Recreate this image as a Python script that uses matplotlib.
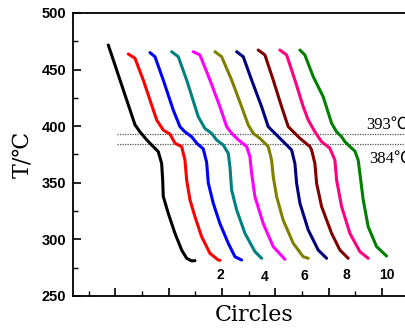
import matplotlib
matplotlib.use("Agg")
import matplotlib.pyplot as plt
from matplotlib.ticker import MultipleLocator

# cooling curves, one per cycle (x in arbitrary time units, T in degC)
x1 = [17.38, 27.39, 29.26, 31.78, 33.65, 36.13, 37.40, 37.78, 38.00, 39.88, 42.39, 44.90, 46.78, 48.65, 49.89]
t1 = [471.7, 401.3, 395.0, 388.0, 383.4, 377.5, 367.0, 352.5, 338.0, 323.0, 305.4, 290.6, 283.3, 281.0, 281.2]

x2 = [24.88, 27.39, 30.50, 35.53, 38.00, 40.51, 42.39, 44.90, 46.14, 46.78, 48.01, 49.89, 52.40, 55.51, 58.63, 59.26]
t2 = [463.8, 460.0, 440.8, 405.5, 396.6, 393.0, 385.0, 382.0, 370.0, 352.5, 335.0, 320.0, 302.4, 287.7, 281.8, 281.5]

x3 = [33.01, 34.89, 38.00, 41.75, 44.26, 46.14, 48.65, 50.53, 53.00, 54.28, 54.88, 56.75, 59.26, 62.38, 64.89, 67.40]
t3 = [465.0, 461.4, 440.8, 414.3, 399.6, 395.0, 390.7, 385.0, 380.0, 368.0, 350.0, 332.0, 314.0, 296.6, 284.7, 281.8]

x4 = [41.15, 43.63, 46.78, 51.13, 53.64, 56.15, 58.03, 60.50, 62.38, 63.01, 63.65, 65.53, 68.64, 72.39, 74.90]
t4 = [465.8, 461.4, 440.8, 408.4, 398.0, 393.7, 387.8, 383.4, 376.0, 364.3, 343.6, 326.0, 305.4, 289.2, 283.3]

x5 = [49.25, 51.76, 55.51, 59.26, 61.78, 63.65, 66.13, 69.28, 70.51, 71.15, 72.39, 75.50, 79.25, 83.64]
t5 = [465.8, 462.9, 440.8, 417.2, 399.6, 393.7, 388.0, 382.0, 373.0, 358.4, 337.7, 314.0, 293.6, 282.4]

x6 = [57.39, 59.90, 63.65, 67.40, 69.88, 71.75, 74.26, 77.38, 78.65, 79.25, 80.53, 83.00, 86.75, 90.50, 92.38]
t6 = [465.8, 461.4, 440.8, 417.2, 401.0, 393.7, 389.3, 382.0, 370.0, 355.6, 337.7, 317.0, 296.6, 284.7, 283.3]

x7 = [65.53, 68.00, 71.15, 74.90, 77.38, 79.89, 81.76, 84.88, 86.15, 87.39, 88.03, 89.26, 92.38, 96.13, 99.28]
t7 = [465.8, 461.4, 440.8, 417.2, 399.6, 393.7, 389.3, 382.0, 379.0, 367.0, 349.6, 332.0, 308.4, 290.6, 283.3]

x8 = [73.63, 76.14, 79.25, 82.40, 84.88, 87.39, 89.26, 93.01, 93.65, 94.89, 95.53, 97.40, 101.15, 104.26, 107.38]
t8 = [467.3, 462.9, 440.8, 417.2, 399.6, 393.7, 389.3, 382.0, 379.0, 367.0, 349.6, 329.0, 305.4, 290.6, 283.3]

x9 = [81.76, 84.28, 87.39, 90.50, 92.38, 94.89, 97.40, 100.51, 102.39, 103.03, 104.90, 108.01, 111.76, 114.88]
t9 = [467.3, 462.9, 440.8, 417.2, 405.5, 395.0, 386.3, 380.5, 370.0, 352.5, 329.0, 305.4, 289.2, 283.3]

x10 = [89.26, 91.14, 94.25, 98.00, 101.15, 103.03, 104.90, 106.14, 108.01, 109.89, 111.13, 111.76, 113.00, 114.88, 118.03, 121.78]
t10 = [467.3, 462.9, 443.8, 426.0, 402.6, 395.0, 390.7, 386.3, 382.0, 378.0, 370.0, 358.4, 335.0, 311.2, 293.6, 285.3]

xs = [x1, x2, x3, x4, x5, x6, x7, x8, x9, x10]
ts = [t1, t2, t3, t4, t5, t6, t7, t8, t9, t10]
colors = ['black', 'red', 'blue', '#008080', '#FF00FF', '#808000', '#000080', '#800000', '#FF0080', '#008000']

levels = [393, 384]
level_labels = ['393℃', '384℃']
level_text_pos = [(114.0, 401.1), (115.25, 370.8)]

cycle_labels = ['2', '4', '6', '8', '10']
cycle_label_pos = [(59.53, 268.6), (76.14, 266.6), (90.88, 267.7), (106.78, 268.6), (121.78, 268.6)]

fig = plt.figure(figsize=(4.06, 3.34), dpi=100)
ax = fig.add_axes([0.1798, 0.1138, 0.892, 0.8473])

for x, t, c in zip(xs, ts, colors):
    ax.plot(x, t, color=c, lw=2.2, solid_joinstyle='round', solid_capstyle='round', zorder=3)

for lv in levels:
    ax.hlines(lv, 20.75, 140, colors='#555555', linestyles=(0, (1, 1)), lw=0.9, zorder=2)

for s, (px, py) in zip(level_labels, level_text_pos):
    ax.text(px, py, s, fontsize=12, va='center', ha='left',
            family=['Liberation Serif', 'Noto Sans CJK SC'])

for s, (px, py) in zip(cycle_labels, cycle_label_pos):
    ax.text(px, py, s, fontsize=10, fontweight='bold', ha='center', va='center',
            family='Liberation Sans')

ax.set_xlim(4.14, 140)
ax.set_ylim(250, 500)
ax.xaxis.set_major_locator(MultipleLocator(20))
ax.xaxis.set_minor_locator(MultipleLocator(10))
ax.yaxis.set_major_locator(MultipleLocator(50))
ax.yaxis.set_minor_locator(MultipleLocator(25))
ax.tick_params(axis='both', which='major', direction='in', length=6, width=1.2)
ax.tick_params(axis='both', which='minor', direction='in', length=3.5, width=1.0)
ax.tick_params(axis='x', which='both', labelbottom=False)
ax.tick_params(axis='y', which='major', pad=5)
for lab in ax.get_yticklabels():
    lab.set_family('Liberation Sans')
    lab.set_fontweight('bold')
    lab.set_fontsize(10.5)
for sp in ax.spines.values():
    sp.set_linewidth(1.3)

ax.set_ylabel('T/℃', fontsize=16, family=['DejaVu Serif', 'Noto Sans CJK SC'], labelpad=6)
ax.set_xlabel('Circles', fontsize=16, family='DejaVu Serif', labelpad=6)

fig.savefig('out.png', dpi=100)
